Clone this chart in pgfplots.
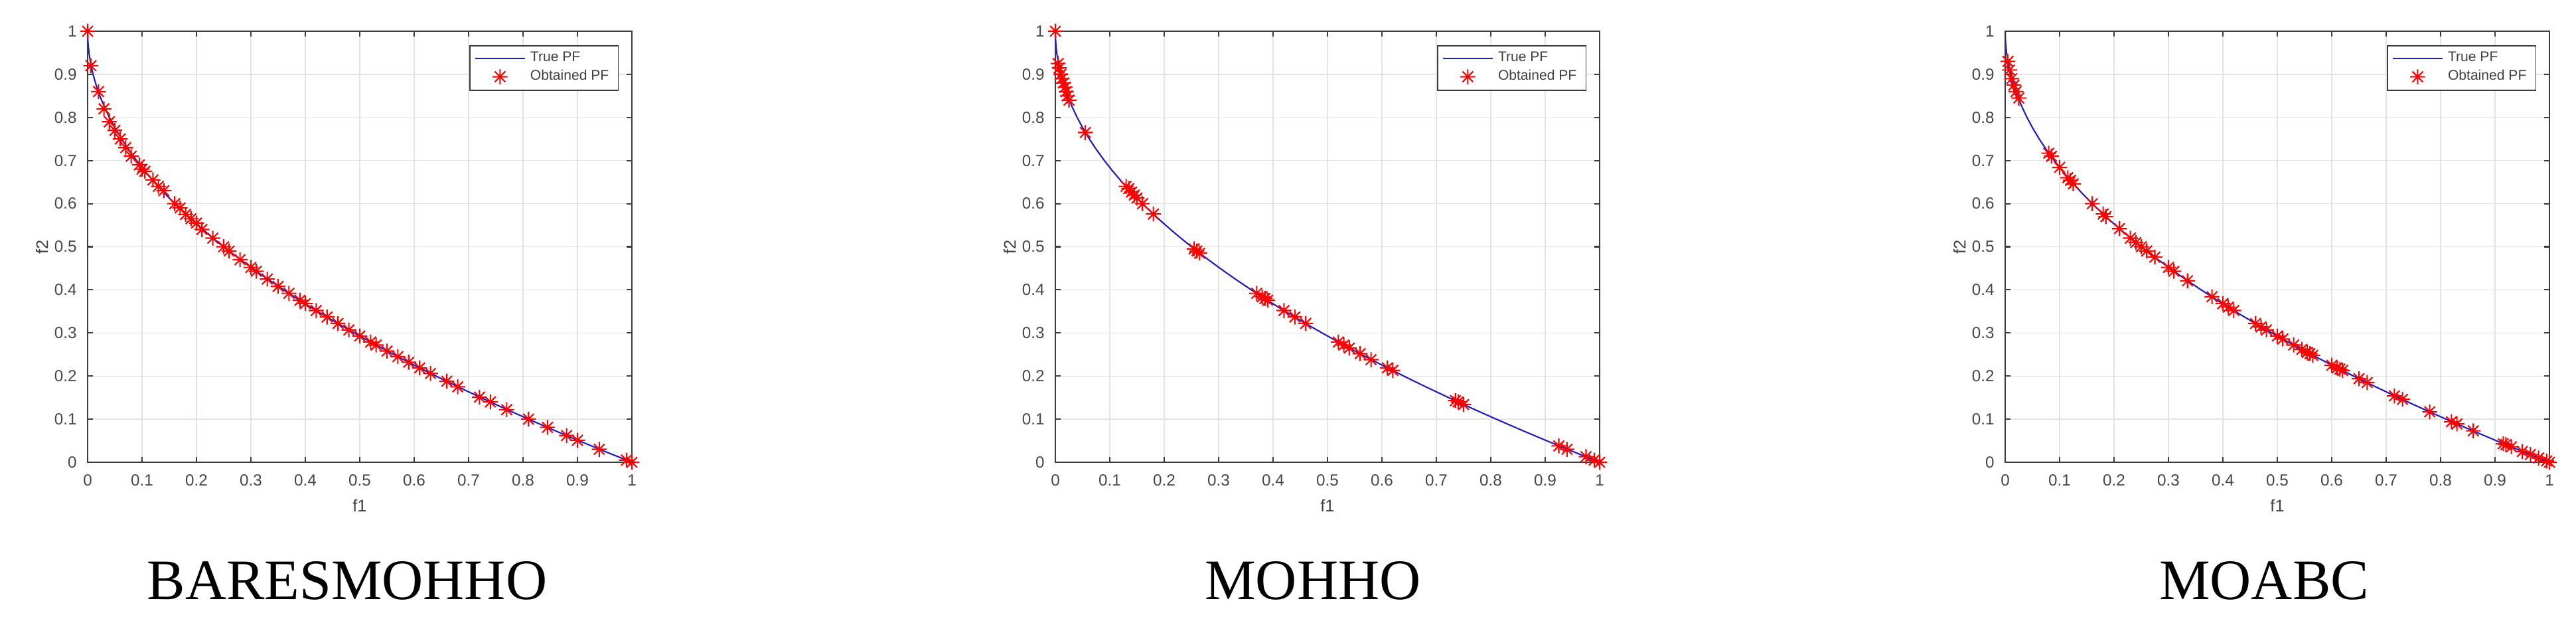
\documentclass[border=0pt]{standalone}
\usepackage{fontspec}
\setmainfont{Liberation Serif}
\newfontfamily\arial{Liberation Sans}
\usepackage{pgfplots}
\usepackage{pgfplotstable}
\pgfplotsset{compat=1.18}

% MATLAB-like '*' marker: a plus and a cross
\pgfdeclareplotmark{mstar}{%
  \pgfpathmoveto{\pgfqpoint{-\pgfplotmarksize}{0pt}}\pgfpathlineto{\pgfqpoint{\pgfplotmarksize}{0pt}}%
  \pgfpathmoveto{\pgfqpoint{0pt}{-\pgfplotmarksize}}\pgfpathlineto{\pgfqpoint{0pt}{\pgfplotmarksize}}%
  \pgfpathmoveto{\pgfqpoint{-0.7071\pgfplotmarksize}{-0.7071\pgfplotmarksize}}\pgfpathlineto{\pgfqpoint{0.7071\pgfplotmarksize}{0.7071\pgfplotmarksize}}%
  \pgfpathmoveto{\pgfqpoint{-0.7071\pgfplotmarksize}{0.7071\pgfplotmarksize}}\pgfpathlineto{\pgfqpoint{0.7071\pgfplotmarksize}{-0.7071\pgfplotmarksize}}%
  \pgfusepathqstroke}

% true Pareto front
\pgfplotstableread{
x y
0 1
0.000625 0.975
0.0025 0.95
0.005625 0.925
0.01 0.9
0.015625 0.875
0.0225 0.85
0.030625 0.825
0.04 0.8
0.050625 0.775
0.0625 0.75
0.075625 0.725
0.09 0.7
0.105625 0.675
0.1225 0.65
0.140625 0.625
0.16 0.6
0.180625 0.575
0.2025 0.55
0.225625 0.525
0.25 0.5
0.275625 0.475
0.3025 0.45
0.330625 0.425
0.36 0.4
0.390625 0.375
0.4225 0.35
0.455625 0.325
0.49 0.3
0.525625 0.275
0.5625 0.25
0.600625 0.225
0.64 0.2
0.680625 0.175
0.7225 0.15
0.765625 0.125
0.81 0.1
0.855625 0.075
0.9025 0.05
0.950625 0.025
1 0
}\truepf

% BARESMOHHO
\pgfplotstableread{
x y
0 1
0.006 0.92
0.02 0.86
0.03 0.82
0.04 0.79
0.05 0.77
0.06 0.75
0.07 0.73
0.08 0.71
0.095 0.69
0.1 0.68
0.105 0.675
0.12 0.655
0.13 0.64
0.14 0.63
0.16 0.6
0.17 0.59
0.18 0.575
0.19 0.565
0.2 0.555
0.21 0.54
0.23 0.52
0.25 0.5
0.26 0.49
0.28 0.47
0.3 0.452
0.31 0.443
0.33 0.425
0.35 0.408
0.37 0.392
0.39 0.376
0.4 0.368
0.42 0.352
0.44 0.337
0.46 0.322
0.48 0.307
0.5 0.293
0.52 0.279
0.53 0.272
0.55 0.258
0.57 0.245
0.59 0.232
0.61 0.219
0.63 0.206
0.66 0.188
0.68 0.175
0.72 0.151
0.74 0.14
0.77 0.122
0.81 0.1
0.845 0.081
0.88 0.062
0.9 0.051
0.94 0.03
0.99 0.005
1 0
}\bares

% MOHHO
\pgfplotstableread{
x y
0 1
0.005 0.925
0.007 0.915
0.01 0.9
0.012 0.89
0.015 0.88
0.018 0.87
0.02 0.86
0.022 0.85
0.025 0.84
0.055 0.765
0.13 0.64
0.135 0.635
0.14 0.627
0.145 0.62
0.15 0.613
0.16 0.6
0.18 0.576
0.255 0.495
0.26 0.49
0.265 0.485
0.37 0.392
0.38 0.384
0.385 0.38
0.39 0.376
0.42 0.352
0.44 0.337
0.46 0.322
0.52 0.279
0.53 0.272
0.54 0.265
0.56 0.252
0.58 0.238
0.61 0.219
0.62 0.213
0.735 0.143
0.74 0.14
0.75 0.134
0.925 0.038
0.94 0.03
0.975 0.013
0.99 0.005
1 0
}\mohho

% MOABC
\pgfplotstableread{
x y
0.005 0.93
0.008 0.91
0.012 0.89
0.016 0.875
0.02 0.86
0.025 0.845
0.08 0.717
0.085 0.71
0.1 0.684
0.115 0.66
0.12 0.654
0.125 0.646
0.16 0.6
0.18 0.576
0.185 0.57
0.21 0.542
0.23 0.52
0.24 0.51
0.25 0.5
0.26 0.49
0.275 0.476
0.3 0.452
0.31 0.443
0.335 0.421
0.38 0.384
0.4 0.368
0.41 0.36
0.42 0.352
0.46 0.322
0.47 0.314
0.48 0.307
0.5 0.293
0.51 0.286
0.53 0.272
0.545 0.262
0.555 0.255
0.56 0.252
0.565 0.248
0.6 0.225
0.61 0.219
0.615 0.216
0.62 0.213
0.65 0.194
0.665 0.185
0.715 0.154
0.73 0.146
0.78 0.117
0.82 0.094
0.83 0.089
0.86 0.073
0.915 0.043
0.92 0.041
0.93 0.036
0.95 0.025
0.965 0.018
0.98 0.01
0.995 0.003
1 0
}\moabc

\definecolor{axgray}{RGB}{60,60,60}
\definecolor{pfblue}{RGB}{30,30,190}

\pgfplotsset{
  pfpanel/.style={
    scale only axis,
    width=8.20cm, height=6.49cm,
    anchor=south west,
    xmin=0, xmax=1, ymin=0, ymax=1,
    xtick={0,0.1,...,1}, ytick={0,0.1,...,1},
    grid=major,
    major grid style={gray!22, line width=0.35pt},
    axis line style={axgray, line width=0.75pt},
    tick style={axgray, line width=0.6pt},
    major tick length=0.08cm,
    tick align=inside,
    xtick pos=both, ytick pos=both,
    /pgf/number format/assume math mode=true,
    tick label style={font=\arial\fontsize{6.9}{8}\selectfont, text=black!72},
    xticklabel style={yshift=-0.06cm},
    yticklabel style={xshift=-0.04cm},
    xlabel={f1}, ylabel={f2},
    label style={font=\arial\fontsize{7.2}{8}\selectfont, text=black!75},
    xlabel style={at={(axis description cs:0.5,-0.100)}, anchor=center},
    ylabel style={at={(axis description cs:-0.084,0.5)}, anchor=center},
    legend style={at={(axis description cs:0.976,0.968)}, anchor=north east,
      draw=axgray, line width=0.5pt, fill=white,
      font=\arial\fontsize{6}{7}\selectfont, text=black!75,
      inner xsep=2pt, inner ysep=0.8pt, row sep=-2pt},
    legend cell align=left,
    legend image code/.code={%
      \draw[mark repeat=2,mark phase=2,#1] plot coordinates {(0cm,0cm) (0.375cm,0cm) (0.75cm,0cm)};},
  },
  truestyle/.style={pfblue, line width=0.6pt, no markers},
  obtstyle/.style={only marks, mark=mstar, mark size=3.2pt, red, mark options={line width=0.6pt}},
}

\begin{document}
\begin{tikzpicture}
\path[use as bounding box] (0,0) rectangle (38.81cm,9.35cm);

\begin{axis}[pfpanel, at={(1.32cm,2.39cm)}]
\addplot[truestyle] table {\truepf};
\addlegendentry{True PF}
\addplot[obtstyle] table {\bares};
\addlegendentry{Obtained PF}
\end{axis}

\begin{axis}[pfpanel, at={(15.90cm,2.39cm)}]
\addplot[truestyle] table {\truepf};
\addlegendentry{True PF}
\addplot[obtstyle] table {\mohho};
\addlegendentry{Obtained PF}
\end{axis}

\begin{axis}[pfpanel, at={(30.21cm,2.39cm)}]
\addplot[truestyle] table {\truepf};
\addlegendentry{True PF}
\addplot[obtstyle] table {\moabc};
\addlegendentry{Obtained PF}
\end{axis}

\node[anchor=base, font=\fontsize{24.5}{28}\selectfont] at (5.23cm,0.32cm) {BARESMOHHO};
\node[anchor=base, font=\fontsize{24.5}{28}\selectfont] at (19.78cm,0.32cm) {MOHHO};
\node[anchor=base, font=\fontsize{24.5}{28}\selectfont] at (34.11cm,0.32cm) {MOABC};
\end{tikzpicture}
\end{document}
